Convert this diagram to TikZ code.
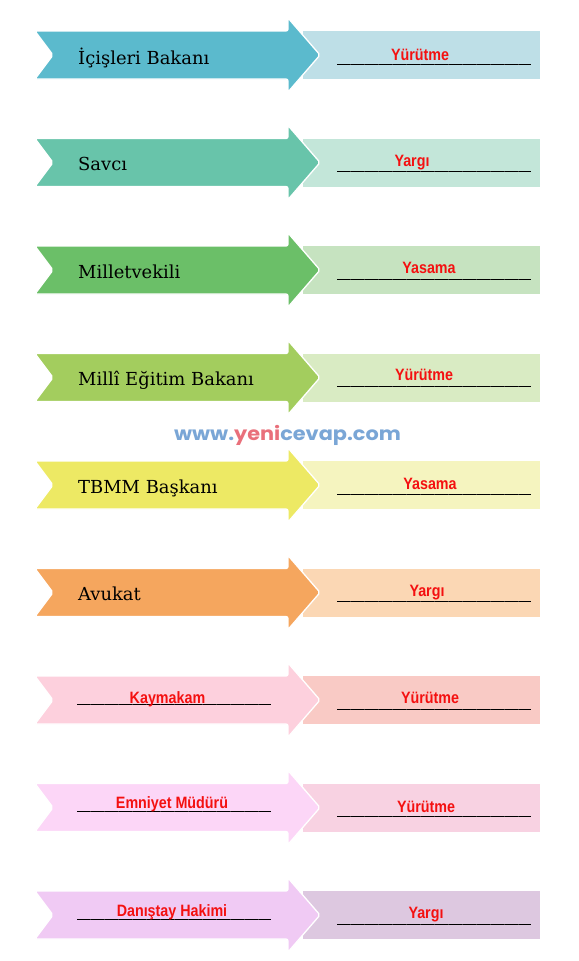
\documentclass[tikz,border=0pt]{standalone}
\usepackage{fontspec}
\setmainfont{DejaVu Serif}
\newfontfamily\redfont[FakeStretch=0.87]{Liberation Sans}
\newfontfamily\wmfont{Poppins}
\definecolor{a1}{HTML}{5BBACD}\definecolor{r1}{HTML}{BEDFE7}
\definecolor{a2}{HTML}{68C4AA}\definecolor{r2}{HTML}{C3E6D9}
\definecolor{a3}{HTML}{6BBF68}\definecolor{r3}{HTML}{C6E3C0}
\definecolor{a4}{HTML}{A3CD5E}\definecolor{r4}{HTML}{D9EBC3}
\definecolor{a5}{HTML}{EDE964}\definecolor{r5}{HTML}{F5F4BF}
\definecolor{a6}{HTML}{F5A65E}\definecolor{r6}{HTML}{FBD7B4}
\definecolor{a7}{HTML}{FDD0DD}\definecolor{r7}{HTML}{F9CAC5}
\definecolor{a8}{HTML}{FCD6F7}\definecolor{r8}{HTML}{F8D2E2}
\definecolor{a9}{HTML}{F0CAF4}\definecolor{r9}{HTML}{DDC8E0}
\definecolor{wmblue}{HTML}{7AA6D6}
\definecolor{wmred}{HTML}{E9707B}
\definecolor{redtext}{HTML}{F41010}
\newcommand\drawrow[3]{%
  \fill[#3] (303,#1-24) rectangle (540,#1+24);
  \filldraw[arrowshape, fill=#2] (35,#1-24) -- (288,#1-24) -- (288,#1-37) -- (320,#1) -- (288,#1+37) -- (288,#1+24) -- (35,#1+24) -- (53,#1) -- cycle;
}
\newcommand\blankline[3]{%
  \draw[blank] (#1,#3) -- (#2,#3);
  \draw[blankticks] (#1+13,#3) -- (#2,#3);
}
\begin{document}
\begin{tikzpicture}[x=1bp,y=-1bp,
  arrowshape/.style={draw=white, line width=1.3bp, rounded corners=2bp, line join=round},
  leftlabel/.style={anchor=base west, inner sep=0pt, text=black, font=\fontsize{18}{20}\selectfont},
  redlabel/.style={anchor=base, inner sep=0pt, text=redtext, font=\redfont\bfseries\fontsize{16.5}{18}\selectfont},
  blank/.style={draw=black, line width=1.2bp},
  blankticks/.style={draw=black!80, line width=1.8bp, dash pattern=on 0.6bp off 13.4bp}]
\useasboundingbox (0,0) rectangle (579,961);
\fill[white] (0,0) rectangle (579,961);
% rows
\drawrow{55}{a1}{r1}
\drawrow{162.5}{a2}{r2}
\drawrow{270}{a3}{r3}
\drawrow{377.5}{a4}{r4}
\drawrow{485}{a5}{r5}
\drawrow{592.5}{a6}{r6}
\drawrow{700}{a7}{r7}
\drawrow{807.5}{a8}{r8}
\drawrow{915}{a9}{r9}
% right blanks
\blankline{337}{531}{64.5}
\blankline{337}{531}{171.5}
\blankline{337}{531}{279.5}
\blankline{337}{531}{386.5}
\blankline{337}{531}{494.5}
\blankline{337}{531}{601.5}
\blankline{337}{531}{709.5}
\blankline{337}{531}{816.5}
\blankline{337}{531}{924.5}
% left blanks
\blankline{77}{271}{704.5}
\blankline{77}{271}{811.5}
\blankline{77}{271}{919.5}
% left labels
\node[leftlabel] (l1) at (78,64) {İçişleri Bakanı};
\node[leftlabel] (l2) at (78,170.5) {Savcı};
\node[leftlabel] (l3) at (78,278) {Milletvekili};
\node[leftlabel] (l4) at (78,385.5) {Millî Eğitim Bakanı};
\node[leftlabel] (l5) at (78,493) {TBMM Başkanı};
\node[leftlabel] (l6) at (78,600.5) {Avukat};
\node[redlabel] (l7) at (167.5,703) {Kaymakam};
\node[redlabel] (l8) at (172,808.5) {Emniyet Müdürü};
\node[redlabel] (l9) at (172,916) {Danıştay Hakimi};
% right labels
\node[redlabel] (r1n) at (420,60) {Yürütme};
\node[redlabel] (r2n) at (412,166) {Yargı};
\node[redlabel] (r3n) at (429,273) {Yasama};
\node[redlabel] (r4n) at (424,380.5) {Yürütme};
\node[redlabel] (r5n) at (430,489) {Yasama};
\node[redlabel] (r6n) at (427,596.5) {Yargı};
\node[redlabel] (r7n) at (430,703) {Yürütme};
\node[redlabel] (r8n) at (426,812.5) {Yürütme};
\node[redlabel] (r9n) at (426,918) {Yargı};
% watermark
\node[anchor=base, inner sep=0pt, font=\wmfont\bfseries\fontsize{19}{21}\selectfont] (wm) at (287.5,440)
  {\scalebox{1.1}[1]{\textcolor{wmblue}{www.}\textcolor{wmred}{yeni}\textcolor{wmblue}{cevap.com}}};
\end{tikzpicture}
\end{document}
